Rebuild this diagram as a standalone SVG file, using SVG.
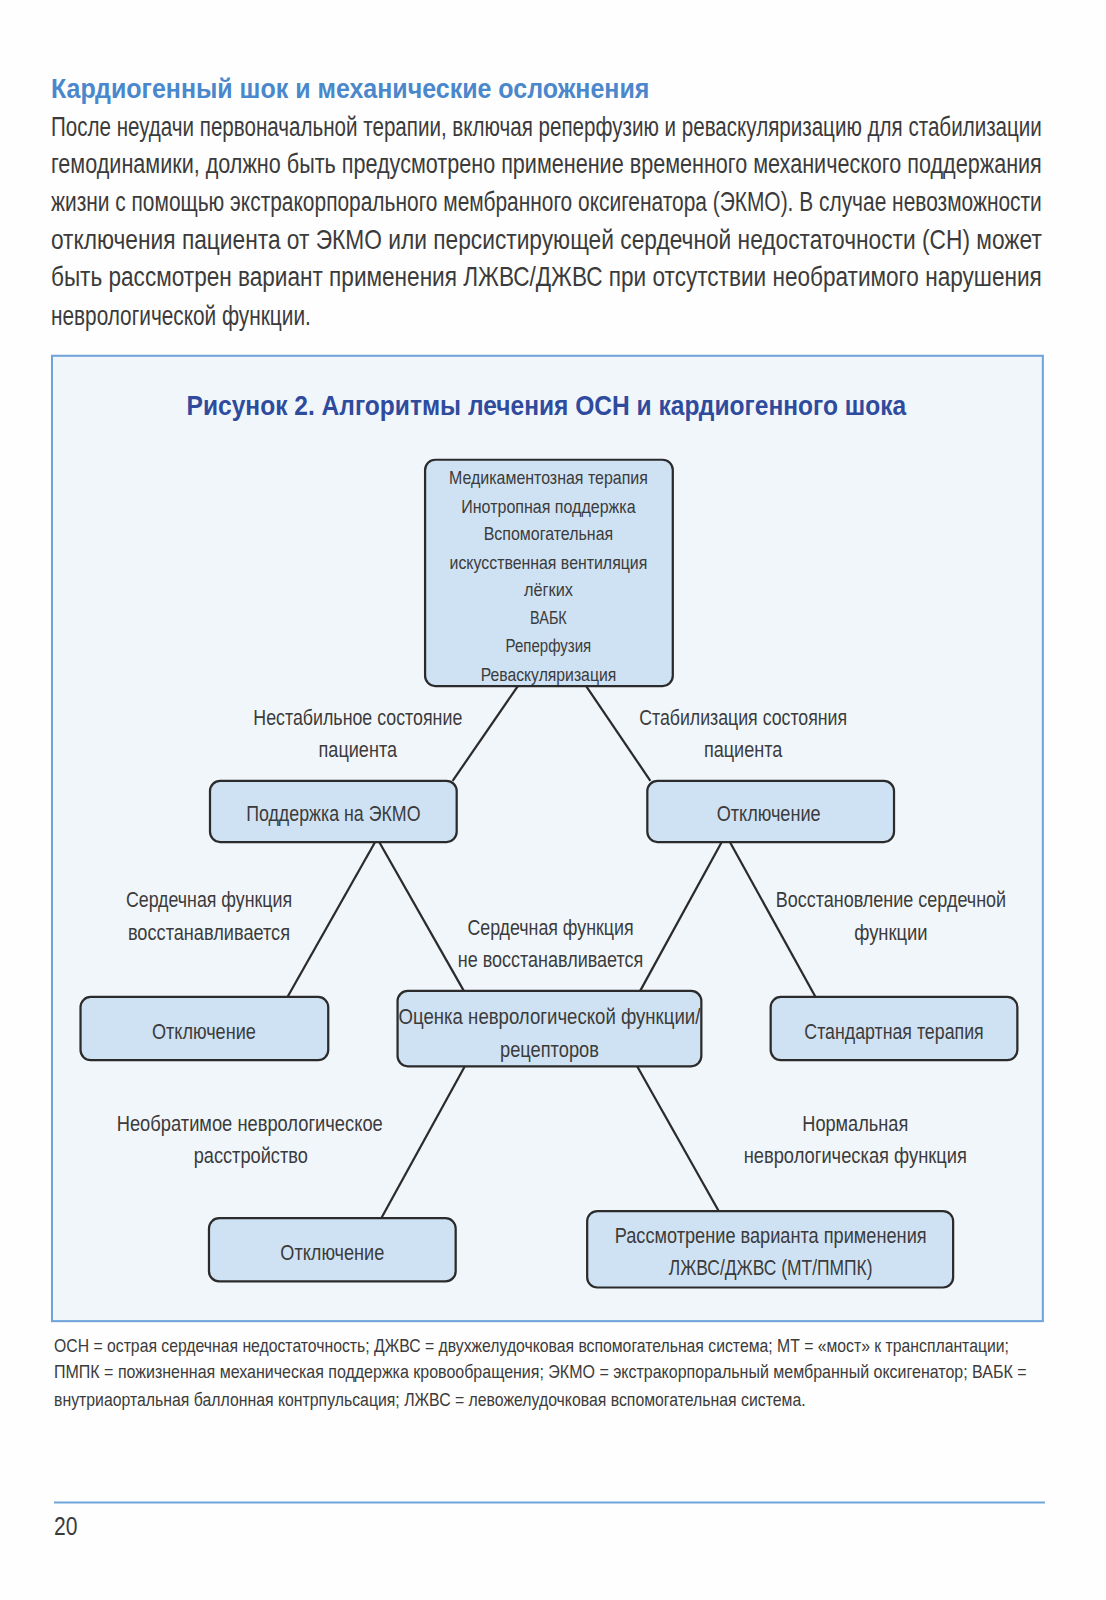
<svg xmlns="http://www.w3.org/2000/svg" width="1106" height="1600" viewBox="0 0 1106 1600">
<style>
.t{font-family:"Liberation Sans Narrow","Liberation Sans",Arial,sans-serif;fill:#3b3b3b}
.body{font-size:27px}
.box{fill:#cfe2f3;stroke:#2b2b2b;stroke-width:2.2}
.nl{font-size:22px;text-anchor:middle}
.tl{font-size:18.5px;text-anchor:middle}
.el{font-size:21.5px;text-anchor:middle}
.fn{font-size:17.5px}
.con line{stroke:#2b2b2b;stroke-width:2.2}
</style>
<rect width="1106" height="1600" fill="#fefefe"/>
<g transform="scale(1.0194)">
<text class="t" x="50" y="96" font-size="28" font-weight="bold" style="fill:#4a87cc" textLength="587" lengthAdjust="spacingAndGlyphs">Кардиогенный шок и механические осложнения</text>
<g class="t body" transform="scale(0.72 1)">
<text x="69.44" y="133" textLength="1350" lengthAdjust="spacingAndGlyphs">После неудачи первоначальной терапии, включая реперфузию и реваскуляризацию для стабилизации</text>
<text x="69.44" y="170" textLength="1350" lengthAdjust="spacingAndGlyphs">гемодинамики, должно быть предусмотрено применение временного механического поддержания</text>
<text x="69.44" y="207" textLength="1350" lengthAdjust="spacingAndGlyphs">жизни с помощью экстракорпорального мембранного оксигенатора (ЭКМО). В случае невозможности</text>
<text x="69.44" y="244" textLength="1350" lengthAdjust="spacingAndGlyphs">отключения пациента от ЭКМО или персистирующей сердечной недостаточности (СН) может</text>
<text x="69.44" y="281" textLength="1350" lengthAdjust="spacingAndGlyphs">быть рассмотрен вариант применения ЛЖВС/ДЖВС при отсутствии необратимого нарушения</text>
<text x="69.44" y="319" textLength="354" lengthAdjust="spacingAndGlyphs">неврологической функции.</text>
</g>
<rect x="51" y="349" width="972" height="947" fill="#f1f6fb" stroke="#6fa3da" stroke-width="2"/>
<text class="t" x="183" y="407" font-size="28" font-weight="bold" style="fill:#2f4b9e" textLength="706" lengthAdjust="spacingAndGlyphs">Рисунок 2. Алгоритмы лечения ОСН и кардиогенного шока</text>
<g class="con">
<line x1="508" y1="673" x2="444" y2="766"/>
<line x1="575" y1="673" x2="638" y2="766"/>
<line x1="368" y1="826" x2="282" y2="978"/>
<line x1="372" y1="826" x2="455" y2="972"/>
<line x1="708" y1="826" x2="628" y2="972"/>
<line x1="716" y1="826" x2="800" y2="978"/>
<line x1="456" y1="1046" x2="374" y2="1195"/>
<line x1="625" y1="1046" x2="705" y2="1188"/>
</g>
<g class="t el">
<text x="351" y="711" textLength="205" lengthAdjust="spacingAndGlyphs">Нестабильное состояние</text>
<text x="351" y="743" textLength="77" lengthAdjust="spacingAndGlyphs">пациента</text>
<text x="729" y="711" textLength="204" lengthAdjust="spacingAndGlyphs">Стабилизация состояния</text>
<text x="729" y="743" textLength="77" lengthAdjust="spacingAndGlyphs">пациента</text>
<text x="205" y="890" textLength="163" lengthAdjust="spacingAndGlyphs">Сердечная функция</text>
<text x="205" y="922" textLength="159" lengthAdjust="spacingAndGlyphs">восстанавливается</text>
<text x="540" y="917" textLength="163" lengthAdjust="spacingAndGlyphs">Сердечная функция</text>
<text x="540" y="949" textLength="182" lengthAdjust="spacingAndGlyphs">не восстанавливается</text>
<text x="874" y="890" textLength="226" lengthAdjust="spacingAndGlyphs">Восстановление сердечной</text>
<text x="874" y="922" textLength="72" lengthAdjust="spacingAndGlyphs">функции</text>
<text x="245" y="1109" textLength="261" lengthAdjust="spacingAndGlyphs">Необратимое неврологическое</text>
<text x="246" y="1141" textLength="112" lengthAdjust="spacingAndGlyphs">расстройство</text>
<text x="839" y="1109" textLength="104" lengthAdjust="spacingAndGlyphs">Нормальная</text>
<text x="839" y="1141" textLength="219" lengthAdjust="spacingAndGlyphs">неврологическая функция</text>
</g>
<g id="n-top">
<rect class="box" x="417" y="451" width="243" height="222" rx="10"/>
<g class="t tl">
<text x="538" y="475" textLength="195" lengthAdjust="spacingAndGlyphs">Медикаментозная терапия</text>
<text x="538" y="503" textLength="171" lengthAdjust="spacingAndGlyphs">Инотропная поддержка</text>
<text x="538" y="530" textLength="127" lengthAdjust="spacingAndGlyphs">Вспомогательная</text>
<text x="538" y="558" textLength="194" lengthAdjust="spacingAndGlyphs">искусственная вентиляция</text>
<text x="538" y="585" textLength="48" lengthAdjust="spacingAndGlyphs">лёгких</text>
<text x="538" y="612" textLength="36" lengthAdjust="spacingAndGlyphs">ВАБК</text>
<text x="538" y="640" textLength="84" lengthAdjust="spacingAndGlyphs">Реперфузия</text>
<text x="538" y="668" textLength="133" lengthAdjust="spacingAndGlyphs">Реваскуляризация</text>
</g>
</g>
<g id="n-ecmo">
<rect class="box" x="206" y="766" width="242" height="60" rx="10"/>
<text class="t nl" x="327" y="805" textLength="171" lengthAdjust="spacingAndGlyphs">Поддержка на ЭКМО</text>
</g>
<g id="n-off1">
<rect class="box" x="635" y="766" width="242" height="60" rx="10"/>
<text class="t nl" x="754" y="805" textLength="102" lengthAdjust="spacingAndGlyphs">Отключение</text>
</g>
<g id="n-off2">
<rect class="box" x="79" y="978" width="243" height="62" rx="10"/>
<text class="t nl" x="200" y="1019" textLength="102" lengthAdjust="spacingAndGlyphs">Отключение</text>
</g>
<g id="n-neuro">
<rect class="box" x="390" y="972" width="298" height="74" rx="10"/>
<text class="t nl" x="539" y="1005" textLength="296" lengthAdjust="spacingAndGlyphs">Оценка неврологической функции/</text>
<text class="t nl" x="539" y="1037" textLength="97" lengthAdjust="spacingAndGlyphs">рецепторов</text>
</g>
<g id="n-std">
<rect class="box" x="756" y="978" width="242" height="62" rx="10"/>
<text class="t nl" x="877" y="1019" textLength="176" lengthAdjust="spacingAndGlyphs">Стандартная терапия</text>
</g>
<g id="n-off3">
<rect class="box" x="205" y="1195" width="242" height="62" rx="10"/>
<text class="t nl" x="326" y="1236" textLength="102" lengthAdjust="spacingAndGlyphs">Отключение</text>
</g>
<g id="n-lvad">
<rect class="box" x="576" y="1188" width="359" height="75" rx="10"/>
<text class="t nl" x="756" y="1219" textLength="306" lengthAdjust="spacingAndGlyphs">Рассмотрение варианта применения</text>
<text class="t nl" x="756" y="1251" textLength="200" lengthAdjust="spacingAndGlyphs">ЛЖВС/ДЖВС (МТ/ПМПК)</text>
</g>
<g class="t fn" transform="scale(0.75 1)">
<text x="70.67" y="1326" textLength="1249" lengthAdjust="spacingAndGlyphs">ОСН = острая сердечная недостаточность; ДЖВС = двухжелудочковая вспомогательная система; МТ = «мост» к трансплантации;</text>
<text x="70.67" y="1352" textLength="1272" lengthAdjust="spacingAndGlyphs">ПМПК = пожизненная механическая поддержка кровообращения; ЭКМО = экстракорпоральный мембранный оксигенатор; ВАБК =</text>
<text x="70.67" y="1379" textLength="983" lengthAdjust="spacingAndGlyphs">внутриаортальная баллонная контрпульсация; ЛЖВС = левожелудочковая вспомогательная система.</text>
</g>
<line x1="53" y1="1474" x2="1025" y2="1474" stroke="#6fa3da" stroke-width="2"/>
<text class="t" x="53" y="1506" font-size="25" textLength="23" lengthAdjust="spacingAndGlyphs">20</text>
</g>
</svg>
